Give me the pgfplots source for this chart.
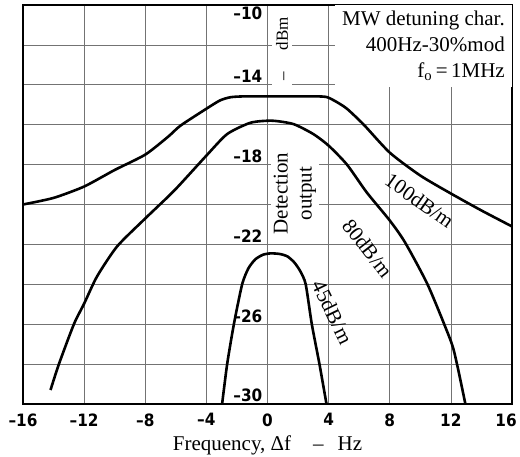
\documentclass[border=0pt]{standalone}
\usepackage{fontspec}
\setmainfont{Liberation Serif}
\newfontfamily\tickfont{DejaVu Sans Condensed}
\usepackage{pgfplots}
\pgfplotsset{compat=1.18}
\begin{document}
\begin{tikzpicture}[
  ylab/.style={anchor=base east, font=\tickfont\bfseries\fontsize{17}{17}\selectfont, inner sep=0pt, xshift=-5pt, yshift=2pt},
  clab/.style={font=\fontsize{21}{24}\selectfont, inner sep=1pt},
]
\begin{axis}[
  scale only axis, width=489pt, height=399pt,
  xmin=-16, xmax=16, ymin=-30, ymax=-10,
  xtick={-16,-12,...,16},
  xticklabels={–16,–12,–8,–4,0,4,8,12,\hspace*{-12pt}16},
  ytick={-30,-28,...,-10},
  yticklabels={},
  grid=major,
  major grid style={black!55, line width=0.7pt},
  axis line style={line width=1.4pt},
  major tick length=0pt,
  xticklabel style={font=\tickfont\bfseries\fontsize{17}{17}\selectfont, yshift=-6pt},
  xlabel={Frequency, Δf\hspace{22pt}–\hspace{14pt}Hz},
  xlabel style={font=\fontsize{21}{24}\selectfont, at={(axis description cs:0.5,0)}, anchor=base, yshift=-47pt},
]
% 100 dB/m
\addplot[black, line width=2.6pt, smooth, tension=0.4] coordinates {
(-16,-20.0) (-14,-19.67) (-12,-19.1) (-10,-18.27) (-8,-17.5) (-6.5,-16.6) (-5.7,-16.05)
(-4,-15.2) (-3.1,-14.78) (-2.4,-14.62) (-1.5,-14.58) (0,-14.58) (2,-14.58) (3.3,-14.58)
(3.9,-14.62) (4.5,-14.85) (5.2,-15.2) (6.3,-16.0) (8,-17.4) (10,-18.55) (12,-19.45)
(14,-20.3) (16,-21.1)};
% 80 dB/m
\addplot[black, line width=2.6pt, smooth, tension=0.4] coordinates {
(-14.2,-29.3) (-13.65,-28) (-12.67,-26) (-12,-24.97) (-11.15,-23.6) (-9.84,-22.1)
(-8,-20.7) (-6.1,-19.3) (-4,-17.55) (-2.64,-16.47) (-1.1,-15.9) (0.3,-15.8) (1.7,-15.97)
(3.0,-16.47) (4,-17.05) (5.2,-18) (6.5,-19.4) (8,-20.8) (9,-21.9) (10.5,-24.05)
(12,-26.85) (12.4,-28) (12.95,-30)};
% 45 dB/m
\addplot[black, line width=2.6pt, smooth, tension=0.4] coordinates {
(-2.97,-30) (-2.64,-28) (-2.2,-26) (-1.66,-24) (-1.25,-23.2) (-0.8,-22.75) (-0.3,-22.52)
(0.2,-22.45) (0.8,-22.48) (1.3,-22.6) (1.75,-22.9) (2.15,-23.35) (2.5,-24) (2.9,-26)
(3.4,-28) (3.86,-30)};
% y labels
\node[ylab, yshift=-17pt] at (axis cs:0,-10) {–10};
\node[ylab] at (axis cs:0,-14) {–14};
\node[ylab] at (axis cs:0,-18) {–18};
\node[ylab] at (axis cs:0,-22) {–22};
\node[ylab] at (axis cs:0,-26) {–26};
\node[ylab] at (axis cs:0,-30) {–30};
% text boxes
\node[rotate=90, fill=white, inner xsep=7pt, inner ysep=4pt, font=\fontsize{17}{17}\selectfont] at (axis cs:0.95,-12.2) {–\hspace{22pt}dBm};
\node[rotate=90, fill=white, align=center, inner sep=3pt, font=\fontsize{21}{24}\selectfont] at (axis cs:1.8,-19.45) {Detection\\output};
\node[anchor=north east, align=right, fill=white, inner xsep=7pt, inner ysep=6pt, font=\fontsize{21}{26}\selectfont] at (axis cs:16,-10) {MW detuning char.\\400Hz-30\%mod\\f\textsubscript{o}\,=\,1MHz};
% curve labels
\node[clab, rotate=-35] at (axis cs:9.95,-19.8) {100dB/m};
\node[clab, rotate=-52] at (axis cs:6.55,-22.2) {80dB/m};
\node[clab, rotate=-64] at (axis cs:4.25,-25.4) {45dB/m};
\end{axis}
\pgfresetboundingbox
\path ([shift={(-23pt,-53pt)}]current axis.south west) rectangle ([shift={(8pt,5pt)}]current axis.north east);
\end{tikzpicture}
\end{document}
